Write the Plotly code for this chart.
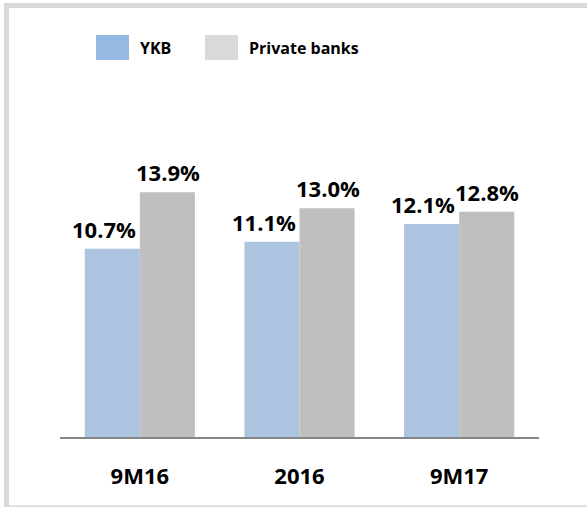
import plotly.graph_objects as go

# Data
categories = ["9M16", "2016", "9M17"]
ykb_values = [10.7, 11.1, 12.1]
private_values = [13.9, 13.0, 12.8]
series_names = ["YKB", "Private banks"]

W, H = 587, 507
L, R, T, B = 60, 48, 85, 70
PW, PH = W - L - R, H - T - B

BAR_BLUE = "#ADC4E1"
BAR_GRAY = "#BFBFBF"
KEY_BLUE = "#95B9E3"
KEY_GRAY = "#D9D9D9"
FONT = "Open Sans"


def px_x(px):
    return (px - L) / PW


def px_y(py):
    return (H - B - py) / PH


fig = go.Figure()
fig.add_trace(go.Bar(x=categories, y=ykb_values, name=series_names[0],
                     marker=dict(color=BAR_BLUE, line=dict(width=0))))
fig.add_trace(go.Bar(x=categories, y=private_values, name=series_names[1],
                     marker=dict(color=BAR_GRAY, line=dict(width=0))))

# Value labels above each bar (x given as category index)
annotations = []
for i, v in enumerate(ykb_values):
    annotations.append(dict(x=i, y=v, xref="x", yref="y", text=f"{v:.1f}%",
                            showarrow=False, xshift=-36, yshift=20, yanchor="middle",
                            font=dict(family=FONT, size=22, color="#000000", weight="bold")))
for i, v in enumerate(private_values):
    annotations.append(dict(x=i, y=v, xref="x", yref="y", text=f"{v:.1f}%",
                            showarrow=False, xshift=28, yshift=20, yanchor="middle",
                            font=dict(family=FONT, size=22, color="#000000", weight="bold")))

# Custom legend keys
shapes = []
for (x0, x1), col in [((96, 129), KEY_BLUE), ((205, 238), KEY_GRAY)]:
    shapes.append(dict(type="rect", xref="paper", yref="paper",
                       x0=px_x(x0), x1=px_x(x1), y0=px_y(60), y1=px_y(35),
                       fillcolor=col, line=dict(width=0), layer="above"))
for name, x0 in zip(series_names, [138, 247]):
    annotations.append(dict(x=px_x(x0), y=px_y(47.5), xref="paper", yref="paper",
                            text=name, showarrow=False, xanchor="left", yanchor="middle",
                            font=dict(family=FONT, size=16, color="#000000", weight="bold")))

# Outer frame
shapes.append(dict(type="rect", xref="paper", yref="paper",
                   x0=px_x(6.5), x1=px_x(620), y0=px_y(508), y1=px_y(5.5),
                   line=dict(color="#D9D9D9", width=5), fillcolor="rgba(0,0,0,0)",
                   layer="below"))

fig.update_layout(
    width=W, height=H,
    margin=dict(l=L, r=R, t=T, b=B, pad=0),
    paper_bgcolor="white", plot_bgcolor="white",
    barmode="group", bargap=0.31, bargroupgap=0,
    showlegend=False,
    shapes=shapes, annotations=annotations,
    xaxis=dict(type="category", range=[-0.5, 2.5], showline=True, linecolor="#868686",
               linewidth=2, ticks="", showgrid=False, zeroline=False,
               ticklabelstandoff=19,
               tickfont=dict(family=FONT, size=22, color="#000000", weight="bold")),
    yaxis=dict(range=[0, 20], visible=False, showgrid=False, zeroline=False),
)

fig.write_html("out.html")
